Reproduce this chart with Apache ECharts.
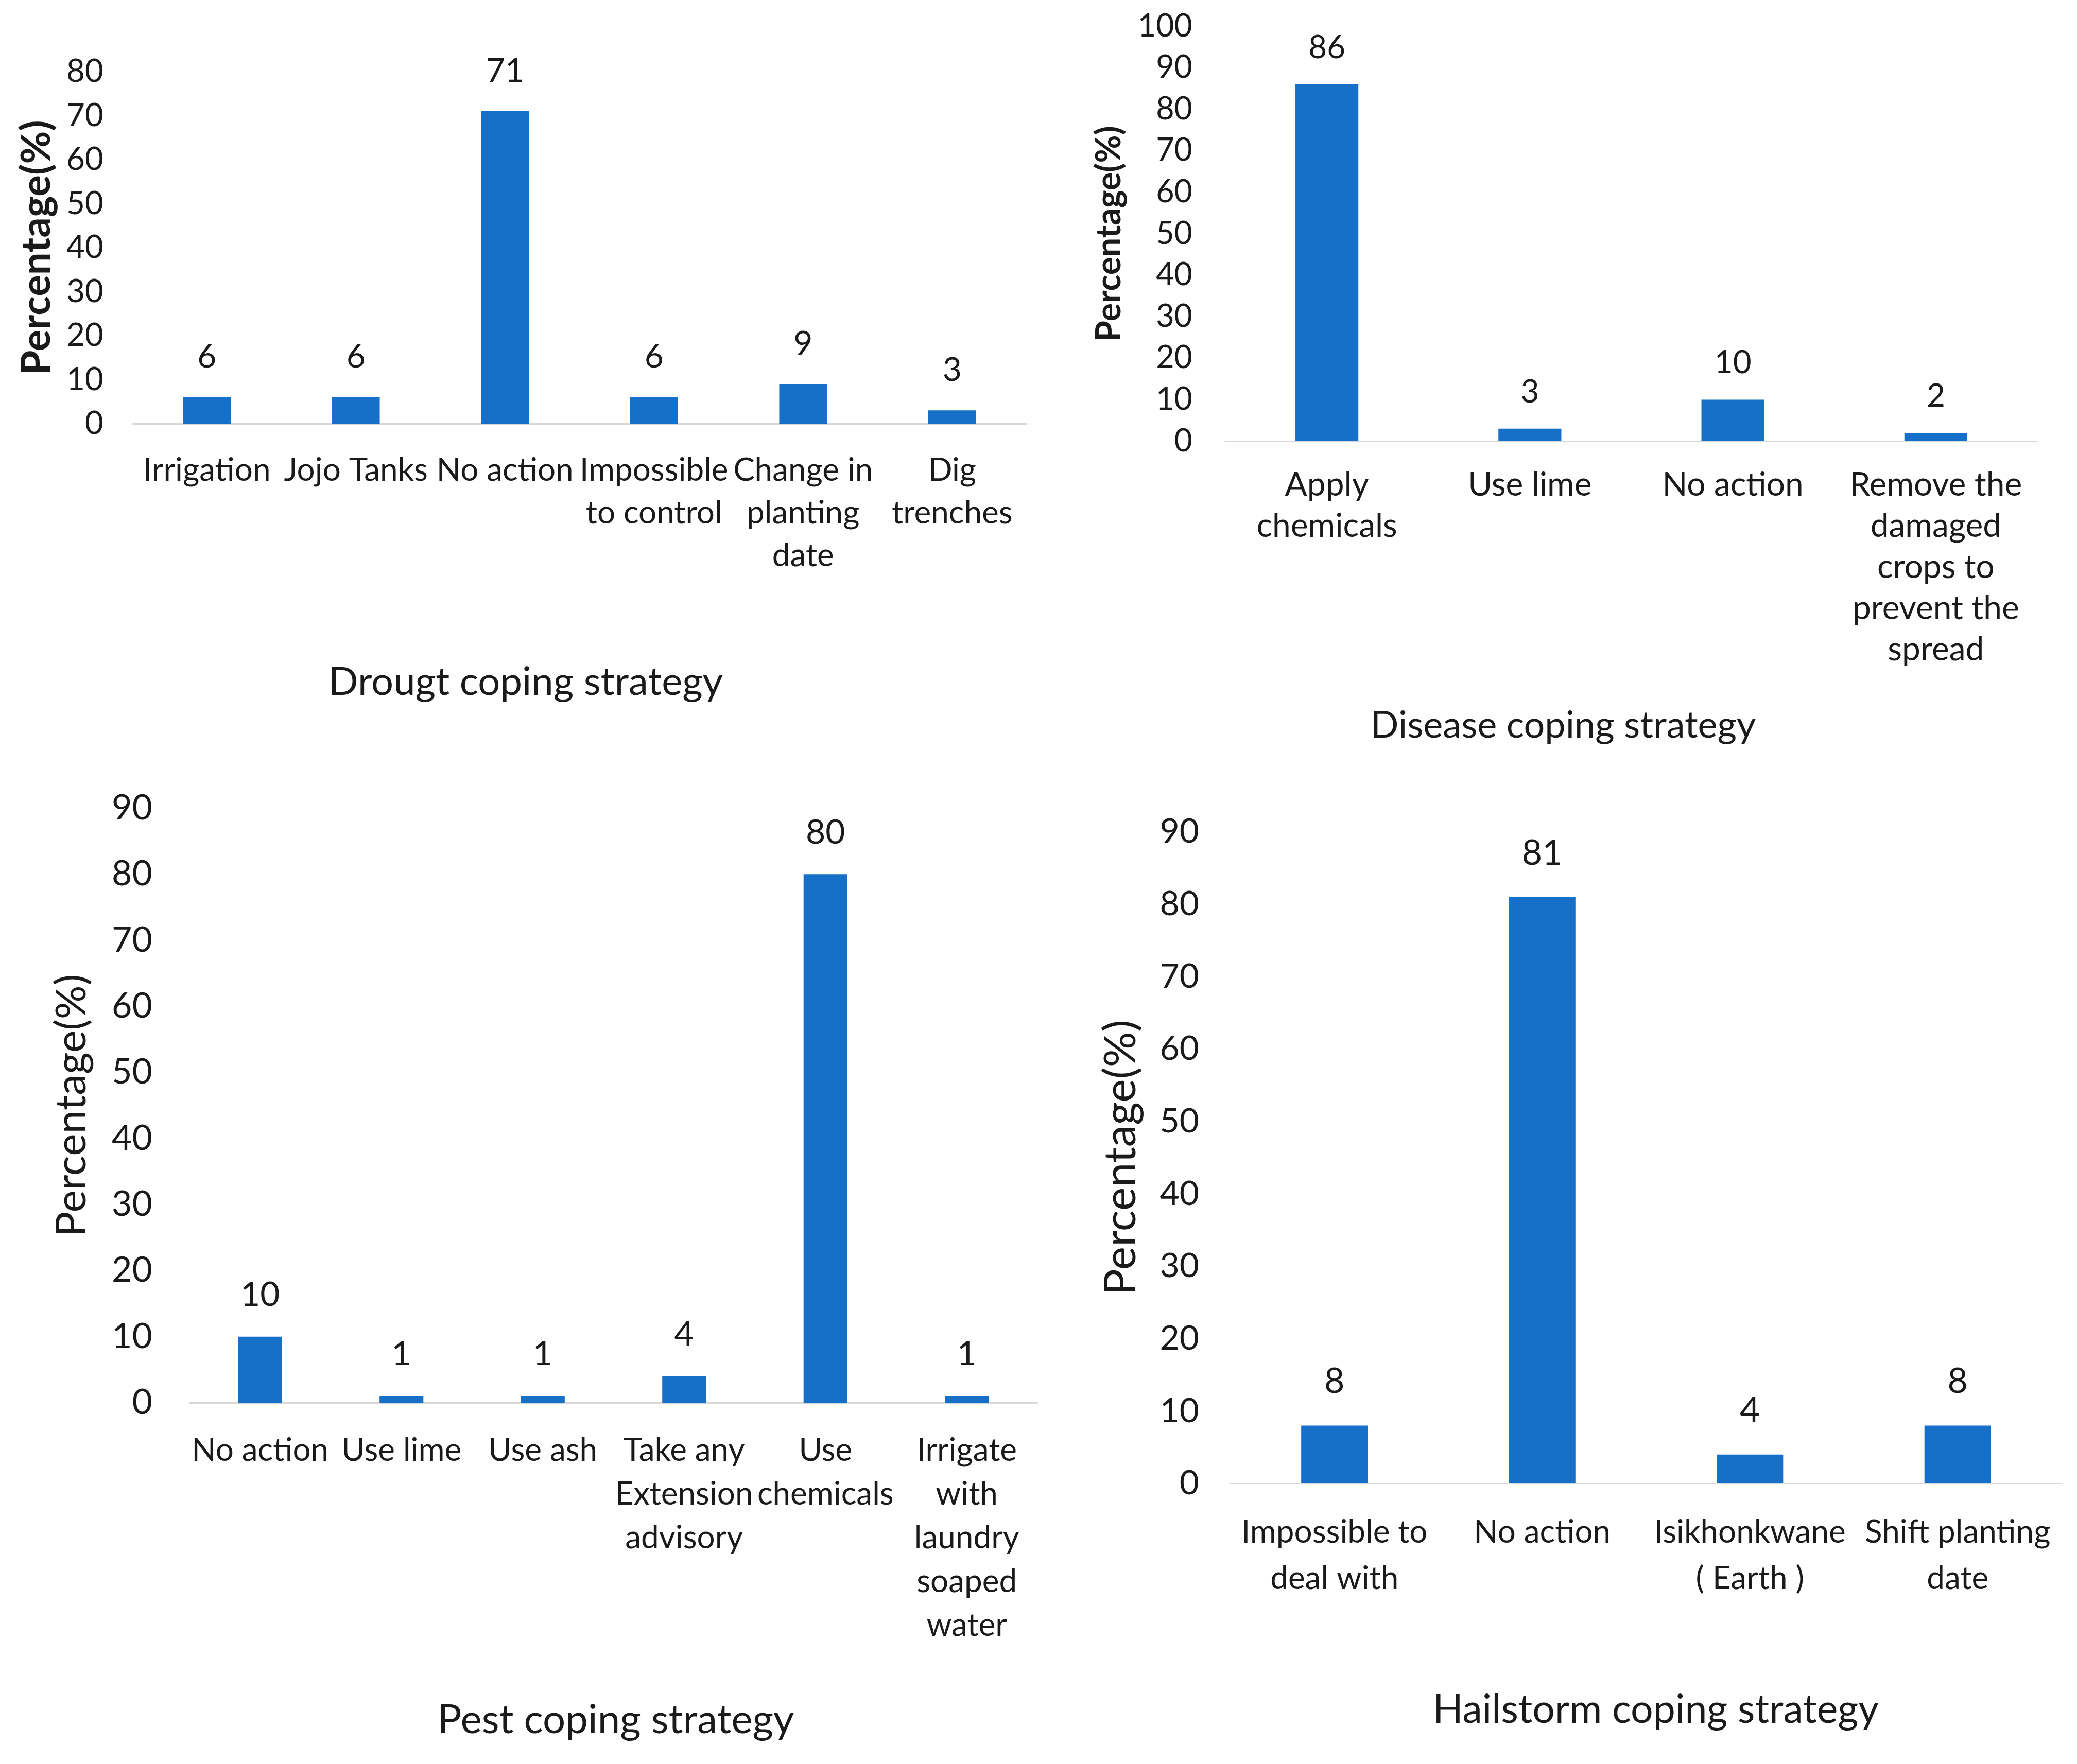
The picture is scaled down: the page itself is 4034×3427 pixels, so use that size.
<!DOCTYPE html>
<html>
<head>
<meta charset="utf-8">
<script src="https://cdn.jsdelivr.net/npm/echarts@6/dist/echarts.min.js"></script>
<style>
html,body{margin:0;padding:0;background:#fff;}
#chart{width:4034px;height:3427px;}
</style>
</head>
<body>
<div id="chart"></div>
<script>
// ---- data ----
var droughtCategories = ["Irrigation", "Jojo Tanks", "No action", "Impossible\nto control", "Change in\nplanting\ndate", "Dig\ntrenches"];
var droughtValues = [6, 6, 71, 6, 9, 3];
var droughtTicks = [0, 80, 10];

var diseaseCategories = ["Apply\nchemicals", "Use lime", "No action", "Remove the\ndamaged\ncrops to\nprevent the\nspread"];
var diseaseValues = [86, 3, 10, 2];
var diseaseTicks = [0, 100, 10];

var pestCategories = ["No action", "Use lime", "Use ash", "Take any\nExtension\nadvisory", "Use\nchemicals", "Irrigate\nwith\nlaundry\nsoaped\nwater"];
var pestValues = [10, 1, 1, 4, 80, 1];
var pestTicks = [0, 90, 10];

var hailCategories = ["Impossible to\ndeal with", "No action", "Isikhonkwane\n( Earth )", "Shift planting\ndate"];
var hailValues = [8, 81, 4, 8];
var hailTicks = [0, 90, 10];

var yAxisTitle = "Percentage(%)";
var panelTitles = ["Drougt coping strategy", "Disease coping strategy", "Pest coping strategy", "Hailstorm coping strategy"];

// ---- layout / style ----
var BAR = '#1670c8';
var TXT = '#1a1a1a';
var FONT = 'Lato, "Open Sans", sans-serif';

var panels = [
  {cats: droughtCategories, vals: droughtValues, ticks: droughtTicks,
   grid: {left: 257, right: 2040, top: 139, bottom: 2604},
   tickFs: 62, tickMargin: 56, catFs: 62, catLh: 83, catMargin: 49, labFs: 64, labDist: 46,
   barW: '32%', yFs: 78, yW: 'bold', yGap: 146,
   tx: 1021, ty: 1325, tFs: 76},
  {cats: diseaseCategories, vals: diseaseValues, ticks: diseaseTicks,
   grid: {left: 2380, right: 77, top: 51, bottom: 2570},
   tickFs: 61, tickMargin: 64, catFs: 64, catLh: 80, catMargin: 45, labFs: 62, labDist: 40,
   barW: '31%', yFs: 66, yW: 'bold', yGap: 192,
   tx: 3036, ty: 1410, tFs: 72},
  {cats: pestCategories, vals: pestValues, ticks: pestTicks,
   grid: {left: 368, right: 2019, top: 1570, bottom: 702},
   tickFs: 68, tickMargin: 72, catFs: 62, catLh: 85, catMargin: 50, labFs: 66, labDist: 48,
   barW: '31%', yFs: 82, yW: 'normal', yGap: 187,
   tx: 1196, ty: 3342, tFs: 78},
  {cats: hailCategories, vals: hailValues, ticks: hailTicks,
   grid: {left: 2390, right: 30, top: 1616, bottom: 545},
   tickFs: 66, tickMargin: 61, catFs: 62, catLh: 90, catMargin: 50, labFs: 68, labDist: 51,
   barW: '32%', yFs: 86, yW: 'normal', yGap: 170,
   tx: 3216, ty: 3322, tFs: 77}
];

var option = {
  backgroundColor: '#fff',
  animation: false,
  grid: [], xAxis: [], yAxis: [], series: [], graphic: []
};

panels.forEach(function (p, i) {
  option.grid.push(p.grid);
  option.xAxis.push({
    type: 'category', gridIndex: i, data: p.cats,
    axisLine: {show: true, lineStyle: {color: '#d9d9d9', width: 3}},
    axisTick: {show: false},
    axisLabel: {interval: 0, hideOverlap: false, color: TXT, fontFamily: FONT,
      fontSize: p.catFs, lineHeight: p.catLh, margin: p.catMargin, align: 'center'}
  });
  option.yAxis.push({
    type: 'value', gridIndex: i, min: p.ticks[0], max: p.ticks[1], interval: p.ticks[2],
    axisLine: {show: false}, axisTick: {show: false}, splitLine: {show: false},
    axisLabel: {color: TXT, fontFamily: FONT, fontSize: p.tickFs, margin: p.tickMargin},
    name: yAxisTitle, nameLocation: 'middle', nameGap: p.yGap,
    nameTextStyle: {color: TXT, fontFamily: FONT, fontSize: p.yFs, fontWeight: p.yW}
  });
  option.series.push({
    type: 'bar', xAxisIndex: i, yAxisIndex: i, data: p.vals, barWidth: p.barW,
    itemStyle: {color: BAR},
    label: {show: true, position: 'top', distance: p.labDist, color: TXT,
      fontFamily: FONT, fontSize: p.labFs}
  });
  option.graphic.push({
    type: 'text', x: p.tx, y: p.ty,
    style: {text: panelTitles[i], fill: TXT, font: p.tFs + 'px ' + FONT,
      textAlign: 'center', textVerticalAlign: 'middle'}
  });
});

var chart = echarts.init(document.getElementById('chart'), null, {renderer: 'canvas'});
chart.setOption(option);
</script>
</body>
</html>
